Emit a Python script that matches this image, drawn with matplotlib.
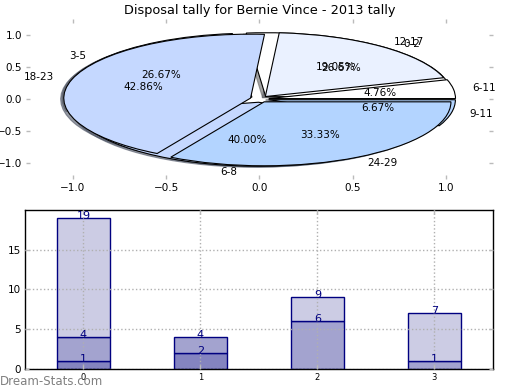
import matplotlib
matplotlib.use("Agg")
import matplotlib.pyplot as plt
import numpy as np

# ---------------- data ----------------
title = "Disposal tally for Bernie Vince - 2013 tally"

# first pie (drawn underneath)
pie_b_labels = ["0-2", "3-5", "6-8", "9-11"]
pie_b_values = [4, 4, 6, 1]

# second pie (drawn on top)
pie_a_labels = ["6-11", "12-17", "18-23", "24-29"]
pie_a_values = [1, 4, 9, 7]

pie_colors = ["#ffffff", "#eaf1ff", "#c5d8ff", "#b3d4ff"]

# stacked bars
bar_x = [0, 1, 2, 3]
layer_low = [1, 2, 0, 0]
layer_mid = [3, 2, 6, 1]
layer_top = [15, 0, 3, 6]
bar_colors = ["#8484c0", "#a3a3cf", "#ccccE4"]

TICK_GREY = "#bbbbbb"


def style_ticks(ax, size):
    ax.tick_params(direction="in", length=3, width=1, color=TICK_GREY,
                   labelsize=size, top=True, right=True, pad=3)


fig = plt.figure(figsize=(5.2, 3.9), dpi=100)

# ---------------- pie panel ----------------
ax1 = fig.add_axes([0.05, 0.541, 0.898, 0.41])
for vals, labs in [(pie_b_values, pie_b_labels), (pie_a_values, pie_a_labels)]:
    ax1.pie(vals, labels=labs, colors=pie_colors, explode=[0.05] * len(vals),
            autopct="%.2f%%", startangle=0, frame=True,
            shadow=dict(ox=-0.012, oy=-0.012, shade=0.6, alpha=0.6),
            wedgeprops=dict(edgecolor="black", linewidth=0.8),
            textprops=dict(fontsize=7.5))
ax1.set_aspect("auto")
ax1.set_xlim(-1.25, 1.25)
ax1.set_ylim(-1.25, 1.25)
ax1.set_xticks([-1.0, -0.5, 0.0, 0.5, 1.0])
ax1.set_yticks([-1.0, -0.5, 0.0, 0.5, 1.0])
ax1.set_frame_on(False)
style_ticks(ax1, 7.5)
ax1.set_title(title, fontsize=9.3, pad=4)

# ---------------- bar panel ----------------
ax2 = fig.add_axes([0.048, 0.054, 0.9, 0.4075])
bottom = np.zeros(len(bar_x))
for layer, col in zip([layer_low, layer_mid, layer_top], bar_colors):
    layer = np.array(layer)
    shown = layer > 0
    xs = np.array(bar_x)[shown]
    ax2.bar(xs, layer[shown], width=0.45, bottom=bottom[shown], color=col,
            edgecolor="#000080", linewidth=1, zorder=2)
    bottom = bottom + layer
    for x, top in zip(xs, bottom[shown]):
        ax2.annotate(f"{int(top)}", (x, top), xytext=(0, 1.5), textcoords="offset points",
                     ha="center", va="center", color="#000080", fontsize=8,
                     annotation_clip=False, clip_on=True, zorder=3)

ax2.set_xlim(-0.5, 3.5)
ax2.set_ylim(0, 20)
ax2.set_xticks(bar_x)
ax2.set_yticks([0, 5, 10, 15])
ax2.grid(True, linestyle=":", color="#b0b0b0", linewidth=1, zorder=2.5)
ax2.set_axisbelow(False)
style_ticks(ax2, 7.5)
ax2.tick_params(axis="x", labelsize=6)
for s in ax2.spines.values():
    s.set_linewidth(1)

fig.text(0.0, 0.021, "Dream-Stats.com", color="#808080", fontsize=8.5, va="center", ha="left")

fig.savefig("out.png", dpi=100)
